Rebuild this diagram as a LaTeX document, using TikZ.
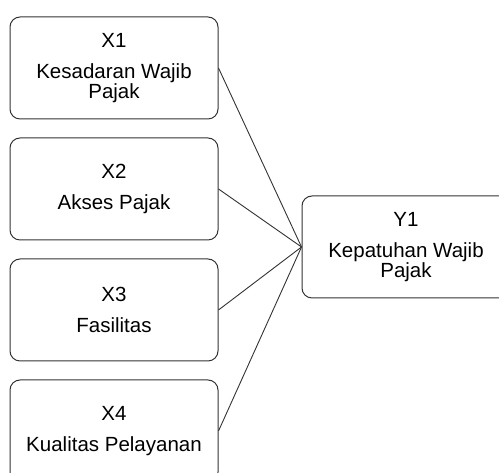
\documentclass[tikz,border=0pt]{standalone}
\usepackage{fontspec}
\setmainfont{Liberation Sans}
\usetikzlibrary{positioning}
\definecolor{edgegray}{HTML}{333333}
\tikzset{
  var/.style={draw=edgegray,line width=1pt,rounded corners=10pt,minimum width=208pt,minimum height=102pt,align=center,font=\fontsize{20.5}{18}\selectfont},
  ln/.style={edgegray,line width=0.9pt}
}
\begin{document}
\begin{tikzpicture}[x=1pt,y=1pt]
\useasboundingbox (0,0) rectangle (499,473);
\clip (0,0) rectangle (499,473);
\node[var] (x1) at (114,405) {X1\\[13pt]Kesadaran Wajib\\Pajak};
\node[var,below=18pt of x1] (x2) {X2\\[13pt]Akses Pajak};
\node[var,below=18pt of x2] (x3) {X3\\[13pt]Fasilitas};
\node[var,below=18pt of x3] (x4) {X4\\[13pt]Kualitas Pelayanan};
\node[var] (y1) at (406,226) {Y1\\[13pt]Kepatuhan Wajib\\Pajak};
\foreach \i in {1,...,4}
  \draw[ln] (x\i.east) -- (y1.west);
\end{tikzpicture}
\end{document}
